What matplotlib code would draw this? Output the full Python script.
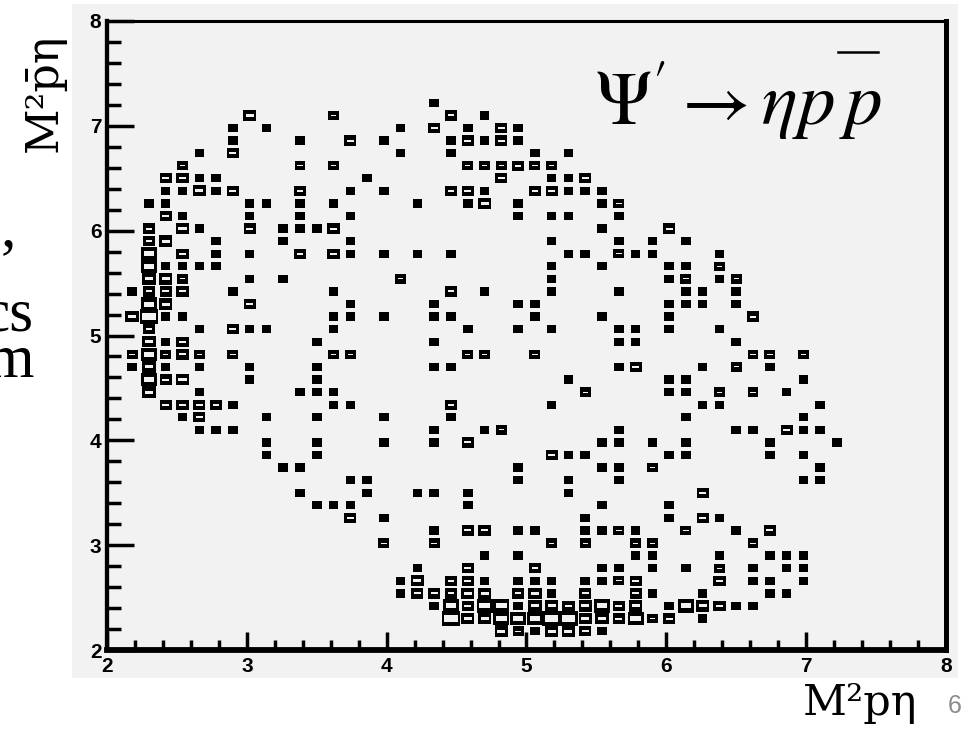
import matplotlib
matplotlib.use("Agg")
import matplotlib.pyplot as plt
import numpy as np
from matplotlib.patches import Rectangle
from matplotlib.lines import Line2D
from matplotlib.ticker import MultipleLocator

plt.rcParams["mathtext.fontset"] = "stix"

# Dalitz plot entries, one row per M2(pbar eta) bin: bin centre, M2(p eta) bin centres, counts
row_y = [7.22, 7.10, 6.98, 6.86, 6.74, 6.62, 6.50, 6.38, 6.26, 6.14, 6.02, 5.90,
         5.78, 5.66, 5.54, 5.42, 5.30, 5.18, 5.06, 4.94, 4.82, 4.70, 4.58, 4.46,
         4.34, 4.22, 4.10, 3.98, 3.86, 3.74, 3.62, 3.50, 3.38, 3.26, 3.14, 3.02,
         2.90, 2.78, 2.66, 2.54, 2.42, 2.30, 2.18]

row_x = [
    [4.34],
    [3.02, 3.62, 4.46, 4.70],
    [2.90, 3.14, 4.10, 4.34, 4.58, 4.82, 4.94],
    [2.90, 3.38, 3.74, 3.98, 4.46, 4.58, 4.70, 4.82, 4.94],
    [2.66, 2.90, 4.10, 4.46, 5.06, 5.30],
    [2.54, 3.38, 3.62, 4.58, 4.70, 4.82, 4.94, 5.06, 5.18],
    [2.42, 2.54, 2.66, 2.78, 3.86, 4.82, 5.18, 5.30, 5.42],
    [2.42, 2.54, 2.66, 2.78, 2.90, 3.38, 3.74, 3.98, 4.46, 4.58, 4.70, 5.06, 5.18, 5.30, 5.42, 5.54],
    [2.30, 2.42, 3.02, 3.14, 3.38, 3.62, 4.22, 4.58, 4.70, 4.94, 5.54, 5.66],
    [2.42, 2.54, 3.02, 3.38, 3.74, 4.94, 5.18, 5.30, 5.66],
    [2.30, 2.54, 2.66, 3.02, 3.26, 3.38, 3.50, 3.62, 5.54, 6.02],
    [2.30, 2.42, 2.78, 3.26, 3.74, 5.18, 5.66, 5.90, 6.14],
    [2.30, 2.54, 2.78, 3.02, 3.38, 3.62, 3.74, 3.98, 4.22, 4.46, 5.30, 5.42, 5.66, 5.78, 5.90, 6.38],
    [2.30, 2.42, 2.54, 2.66, 2.78, 5.18, 5.54, 6.02, 6.14, 6.38],
    [2.30, 2.42, 2.54, 3.02, 3.26, 4.10, 5.18, 6.02, 6.14, 6.38, 6.50],
    [2.18, 2.30, 2.42, 2.54, 2.90, 3.62, 4.46, 4.70, 5.18, 5.66, 6.14, 6.26, 6.50],
    [2.30, 2.42, 3.02, 3.74, 4.34, 4.94, 5.06, 6.02, 6.14, 6.26, 6.50],
    [2.18, 2.30, 2.42, 2.54, 3.62, 3.74, 3.98, 4.34, 4.46, 5.06, 5.54, 6.02, 6.62],
    [2.30, 2.66, 2.90, 3.02, 3.14, 3.62, 4.58, 4.94, 5.18, 5.66, 5.78, 6.02, 6.38],
    [2.30, 2.42, 2.54, 3.50, 4.34, 5.66, 5.78, 6.50],
    [2.18, 2.30, 2.42, 2.54, 2.66, 2.90, 3.62, 3.74, 4.58, 4.70, 5.06, 6.62, 6.74, 6.98],
    [2.18, 2.30, 2.42, 2.66, 3.02, 3.50, 4.34, 4.46, 5.66, 5.78, 6.26, 6.50, 6.74],
    [2.30, 2.42, 2.54, 3.02, 3.50, 5.30, 6.02, 6.14, 6.98],
    [2.30, 2.66, 3.38, 3.50, 3.62, 5.42, 6.02, 6.14, 6.38, 6.62, 6.86],
    [2.42, 2.54, 2.66, 2.78, 2.90, 3.62, 3.74, 4.46, 5.18, 6.26, 6.38, 7.10],
    [2.54, 2.66, 3.14, 3.50, 3.98, 4.46, 6.14, 6.98],
    [2.66, 2.78, 2.90, 4.34, 4.70, 4.82, 5.66, 6.50, 6.62, 6.86, 6.98, 7.10],
    [3.14, 3.50, 3.98, 4.34, 4.58, 5.54, 5.66, 5.90, 6.14, 6.74, 7.22],
    [3.14, 3.50, 5.18, 5.30, 5.42, 6.02, 6.14, 6.74, 6.98],
    [3.26, 3.38, 4.94, 5.54, 5.66, 5.90, 7.10],
    [3.74, 3.86, 4.94, 5.30, 5.66, 6.98, 7.10],
    [3.38, 3.86, 4.22, 4.34, 4.58, 5.30, 6.26],
    [3.50, 3.62, 3.74, 4.58, 5.54, 6.02],
    [3.74, 3.98, 5.42, 6.02, 6.26, 6.38],
    [4.34, 4.58, 4.70, 4.94, 5.06, 5.42, 5.54, 5.66, 5.78, 6.14, 6.50, 6.74],
    [3.98, 4.34, 5.18, 5.42, 5.78, 5.90, 6.62],
    [4.70, 4.94, 5.78, 5.90, 6.38, 6.74, 6.86, 6.98],
    [4.22, 4.58, 5.06, 5.54, 5.66, 5.90, 6.14, 6.38, 6.62, 6.86, 6.98],
    [4.10, 4.22, 4.46, 4.58, 4.70, 4.94, 5.06, 5.18, 5.42, 5.54, 5.66, 5.78, 6.38, 6.62, 6.74, 6.98],
    [4.10, 4.22, 4.34, 4.46, 4.58, 4.70, 4.94, 5.06, 5.18, 5.42, 5.78, 5.90, 6.26, 6.74, 6.86],
    [4.34, 4.46, 4.58, 4.70, 4.82, 4.94, 5.06, 5.18, 5.30, 5.42, 5.54, 5.66, 5.78, 6.02, 6.14, 6.26, 6.38, 6.50, 6.62],
    [4.46, 4.58, 4.70, 4.82, 4.94, 5.06, 5.18, 5.30, 5.42, 5.54, 5.66, 5.78, 5.90, 6.02, 6.26],
    [4.82, 4.94, 5.06, 5.18, 5.30, 5.42, 5.54],
]

row_n = [
    [1],
    [4, 2, 3, 1],
    [1, 1, 1, 3, 1, 3, 1],
    [1, 1, 3, 1, 1, 3, 1, 3, 1],
    [1, 3, 1, 1, 1, 1],
    [2, 2, 2, 2, 2, 2, 3, 2, 2],
    [3, 3, 1, 1, 1, 3, 1, 1, 3],
    [1, 1, 4, 1, 3, 3, 1, 1, 3, 3, 1, 3, 3, 1, 1, 1],
    [1, 1, 1, 1, 1, 1, 1, 1, 4, 1, 1, 2],
    [3, 1, 1, 1, 1, 1, 1, 1, 1],
    [3, 4, 1, 3, 1, 1, 1, 3, 1, 3],
    [3, 4, 1, 1, 1, 1, 1, 1, 1],
    [6, 3, 1, 1, 3, 3, 1, 1, 1, 1, 1, 1, 2, 1, 1, 1],
    [6, 1, 1, 1, 1, 1, 1, 1, 1, 2],
    [4, 4, 2, 1, 1, 2, 1, 1, 2, 1, 2],
    [1, 3, 3, 3, 1, 1, 3, 1, 1, 1, 1, 1, 1],
    [6, 4, 3, 1, 1, 1, 1, 1, 1, 1, 1],
    [4, 8, 1, 1, 1, 1, 1, 1, 1, 1, 1, 1, 3],
    [3, 1, 3, 1, 1, 1, 1, 1, 1, 1, 1, 1, 1],
    [4, 1, 3, 1, 1, 1, 1, 1],
    [2, 6, 2, 3, 2, 2, 2, 2, 2, 2, 2, 2, 2, 2],
    [1, 4, 1, 1, 1, 1, 1, 1, 1, 3, 1, 2, 1],
    [6, 3, 4, 1, 1, 1, 1, 1, 1],
    [4, 1, 1, 1, 1, 2, 1, 1, 2, 2, 1],
    [3, 3, 3, 3, 1, 1, 1, 3, 1, 1, 1, 1],
    [1, 3, 1, 1, 1, 1, 1, 1],
    [1, 1, 1, 1, 1, 2, 1, 1, 1, 3, 1, 1],
    [1, 1, 1, 1, 3, 1, 1, 1, 1, 1, 1],
    [1, 1, 3, 1, 1, 1, 1, 1, 1],
    [1, 1, 1, 1, 1, 2, 1],
    [1, 1, 1, 1, 1, 1, 1],
    [1, 1, 1, 1, 1, 1, 3],
    [1, 1, 1, 1, 1, 1],
    [3, 1, 1, 1, 3, 1],
    [1, 3, 3, 1, 1, 1, 1, 2, 1, 2, 1, 3],
    [2, 2, 2, 2, 2, 2, 2],
    [1, 1, 1, 1, 1, 1, 1, 1],
    [1, 3, 3, 1, 1, 1, 1, 2, 1, 1, 1],
    [1, 4, 3, 3, 1, 1, 1, 1, 1, 1, 2, 3, 3, 1, 1, 1],
    [1, 3, 3, 3, 4, 4, 3, 4, 1, 3, 3, 1, 1, 1, 1],
    [1, 6, 3, 6, 6, 1, 4, 4, 3, 4, 6, 3, 4, 1, 6, 4, 3, 1, 1],
    [8, 4, 4, 6, 6, 6, 8, 8, 4, 4, 3, 6, 2, 3, 1],
    [4, 2, 1, 4, 4, 3, 1],
]

panel = "#f2f2f2"

m2_peta = np.concatenate([np.array(xs) for xs in row_x])
m2_pbareta = np.concatenate([np.full(len(xs), yv) for xs, yv in zip(row_x, row_y)])
counts = np.concatenate([np.array(ns, dtype=float) for ns in row_n])

H, xe, ye = np.histogram2d(m2_peta, m2_pbareta, bins=50,
                           range=[[2, 8], [2, 8]], weights=counts)
bw = xe[1] - xe[0]
bh = ye[1] - ye[0]

fig = plt.figure(figsize=(9.7, 7.37), dpi=100)
fig.patch.set_facecolor("white")

# grey canvas behind the frame
fig.add_artist(Rectangle((72 / 970, 59 / 737), 886 / 970, 674 / 737,
                         transform=fig.transFigure, facecolor=panel,
                         edgecolor="none", zorder=0))

ax = fig.add_axes([107 / 970, 87 / 737, 839 / 970, 629 / 737])
ax.set_facecolor("none")
ax.set_xlim(2, 8)
ax.set_ylim(2, 8)

# box drawing: box grows with bin content, hollow centre for bigger boxes
for ix, iy in zip(*np.nonzero(H)):
    c = H[ix, iy]
    xc = 0.5 * (xe[ix] + xe[ix + 1])
    yc = 0.5 * (ye[iy] + ye[iy + 1])
    w = bw * (0.49 + 0.0775 * c)
    h = bh * (0.58 + 0.08 * c)
    ax.add_patch(Rectangle((xc - w / 2, yc - h / 2), w, h,
                           facecolor="black", edgecolor="none", zorder=3))
    hw = w - 2 * 0.16 * bw
    hh = h - 2 * 0.33 * bh
    if hh > 0.004:
        ax.add_patch(Rectangle((xc - hw / 2, yc - hh / 2), hw, hh,
                               facecolor=panel, edgecolor="none", zorder=4))

ax.spines["top"].set_linewidth(2.2)
ax.spines["left"].set_linewidth(3.1)
ax.spines["right"].set_linewidth(3.6)
ax.spines["bottom"].set_linewidth(4.2)

ticks = np.arange(2, 9)
ax.set_xticks(ticks)
ax.set_yticks(ticks)
ax.xaxis.set_minor_locator(MultipleLocator(0.2))
ax.yaxis.set_minor_locator(MultipleLocator(0.2))
ax.tick_params(axis="both", which="both", direction="in", top=False, right=False,
               width=2.5, labelsize=15)
ax.tick_params(axis="x", which="major", length=13, pad=5)
ax.tick_params(axis="x", which="minor", length=7.2)
ax.tick_params(axis="y", which="major", length=19.4, pad=4)
ax.tick_params(axis="y", which="minor", length=10)

# decay label
fig.text(595 / 970, 1 - 125 / 737, r"$\Psi^{\prime}\rightarrow\eta p\,p$",
         fontsize=54, ha="left", va="baseline")
fig.add_artist(Line2D([838 / 970, 878 / 970], [1 - 52 / 737, 1 - 52 / 737],
                      transform=fig.transFigure, color="black", linewidth=1.8))

# axis titles
fig.text(44 / 970, 1 - 93 / 737, "M²p̄η", rotation=90, fontsize=32,
         family=["DejaVu Serif"], ha="center", va="center")
fig.text(860 / 970, 1 - 715 / 737, "M²pη", fontsize=31,
         family=["DejaVu Serif"], ha="center", va="baseline")

# slide page number and neighbouring text
fig.text(955 / 970, 1 - 706 / 737, "6", fontsize=18, color="#8c8c8c",
         family=["Liberation Sans"], ha="center", va="center")
fig.text(16 / 970, 1 - 245 / 737, ",", fontsize=44, family=["Liberation Serif"],
         ha="right", va="baseline")
fig.text(34 / 970, 1 - 377 / 737, "cs\nm", fontsize=44, family=["Liberation Serif"],
         ha="right", va="baseline", multialignment="right", linespacing=0.78)

for lab in ax.get_xticklabels() + ax.get_yticklabels():
    lab.set_fontfamily("Liberation Sans")
    lab.set_fontweight("bold")
    lab.set_fontsize(15)

fig.savefig("out.png", dpi=100)
